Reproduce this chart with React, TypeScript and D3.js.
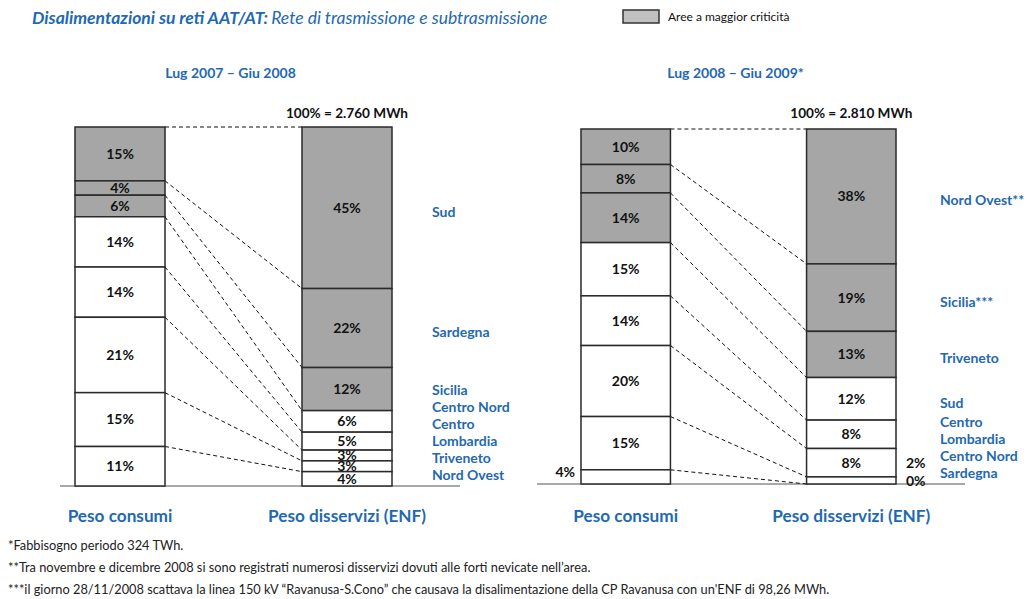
import * as d3 from 'd3';

// Lug 2007 - Giu 2008
const regions2008 = ['Sud', 'Sardegna', 'Sicilia', 'Centro Nord', 'Centro', 'Lombardia', 'Triveneto', 'Nord Ovest'];
const consumi2008 = [15, 4, 6, 14, 14, 21, 15, 11];
const enf2008 = [45, 22, 12, 6, 5, 3, 3, 4];

// Lug 2008 - Giu 2009
const regions2009 = ['Nord Ovest**', 'Sicilia***', 'Triveneto', 'Sud', 'Centro', 'Lombardia', 'Centro Nord', 'Sardegna'];
const consumi2009 = [10, 8, 14, 15, 14, 20, 15, 4];
const enf2009 = [38, 19, 13, 12, 8, 8, 2, 0];

const criticalCount = 3; // first three areas are "a maggior criticità"
const barKeys = ['consumi', 'enf'];
const barTitles = ['Peso consumi', 'Peso disservizi (ENF)'];

const footnotes = [
  '*Fabbisogno periodo 324 TWh.',
  '**Tra novembre e dicembre 2008 si sono registrati numerosi disservizi dovuti alle forti nevicate nell\u2019area.',
  '***il giorno 28/11/2008 scattava la linea 150 kV \u201cRavanusa-S.Cono\u201d che causava la disalimentazione della CP Ravanusa con un\'ENF di 98,26 MWh.',
];

const BLUE = '#1F69B1';
const GRAY = '#A6A6A6';
const FONT = 'Lato, "Open Sans", sans-serif';

// push labels apart from the bottom up
function spread(ys, gap, maxY) {
  const out = ys.slice();
  let limit = maxY;
  for (let i = out.length - 1; i >= 0; i--) {
    out[i] = Math.min(out[i], limit);
    limit = out[i] - gap;
  }
  return out;
}

function Panel({ x0, width, top, bottom, period, total, regions, consumi, enf, outsideSmall, labelGap, lineFrom, lineTo }) {
  const x = d3.scaleBand().domain(barKeys).range([x0, x0 + width]).paddingInner(0.6035);
  const y = d3.scaleLinear().domain([0, 100]).range([top, bottom]);
  const bw = x.bandwidth();

  const series = { consumi, enf };
  const stacks = barKeys.map(k => {
    const vals = series[k];
    const ends = d3.cumsum(vals);
    return vals.map((v, i) => ({ v, start: ends[i] - v, end: ends[i], i }));
  });

  const xc = x('consumi');
  const xe = x('enf');

  const enfMids = stacks[1].map(s => (y(s.start) + y(s.end)) / 2 + 4);
  const labelYs = spread(enfMids, 17, bottom - 11);

  // small values that get their label outside the bar
  const outC = stacks[0].filter(s => outsideSmall && s.v < 5);
  const outE = stacks[1].filter(s => outsideSmall && s.v < 5);
  const outEY = spread(outE.map(s => (y(s.start) + y(s.end)) / 2), 18, bottom - 3);
  const outCY = spread(outC.map(s => (y(s.start) + y(s.end)) / 2 - 5), 18, bottom - 3);

  return (
    <g>
      <text x={x0 + width / 2 - 3} y={73} textAnchor="middle" dy="0.35em" fill={BLUE}
        fontFamily={FONT} fontWeight="bold" fontSize={14}>{period}</text>
      <text x={xe + bw / 2} y={113} textAnchor="middle" dy="0.35em" fill="#111"
        fontFamily={FONT} fontWeight="bold" fontSize={13.6}>{total}</text>

      <line x1={lineFrom} x2={lineTo} y1={bottom} y2={bottom} stroke="#8c8c8c" strokeWidth={1.5} />

      {/* dashed connectors between matching boundaries */}
      {stacks[0].map((s, i) => (
        <line key={'c' + i} x1={xc + bw} y1={y(s.start)} x2={xe} y2={y(stacks[1][i].start)}
          stroke="#111" strokeWidth={1} strokeDasharray="4,3" />
      ))}

      {barKeys.map((k, bi) => (
        <g key={k}>
          {stacks[bi].map(s => (
            <rect key={s.i} x={x(k)} y={y(s.start)} width={bw} height={y(s.end) - y(s.start)}
              fill={s.i < criticalCount ? GRAY : '#fff'} stroke="#2a2a2a" strokeWidth={1.5} />
          ))}
          {stacks[bi].filter(s => !(outsideSmall && s.v < 5)).map(s => (
            <text key={'t' + s.i} x={x(k) + bw / 2} y={(y(s.start) + y(s.end)) / 2} dy="0.35em"
              textAnchor="middle" fill="#111" fontFamily={FONT} fontWeight="bold" fontSize={14}>
              {s.v + '%'}
            </text>
          ))}
          <text x={x(k) + bw / 2} y={516} dy="0.35em" textAnchor="middle" fill={BLUE}
            fontFamily={FONT} fontWeight="bold" fontSize={17.2}>{barTitles[bi]}</text>
        </g>
      ))}

      {outC.map((s, j) => (
        <text key={'oc' + j} x={xc - 6} y={outCY[j]} dy="0.35em" textAnchor="end" fill="#111"
          fontFamily={FONT} fontWeight="bold" fontSize={14}>{s.v + '%'}</text>
      ))}
      {outE.map((s, j) => (
        <text key={'oe' + j} x={xe + bw + 10} y={outEY[j]} dy="0.35em" textAnchor="start" fill="#111"
          fontFamily={FONT} fontWeight="bold" fontSize={14}>{s.v + '%'}</text>
      ))}

      {regions.map((r, i) => (
        <text key={r} x={xe + bw + labelGap} y={labelYs[i]} dy="0.35em" fill={BLUE}
          fontFamily={FONT} fontWeight="bold" fontSize={14}>{r}</text>
      ))}
    </g>
  );
}

export default function App() {
  return (
    <svg width={1031} height={599} style={{ position: 'absolute', left: 0, top: 0, background: '#fff' }}>
      <text x={32} y={18} dy="0.35em" fill={BLUE} fontFamily={FONT} fontStyle="italic" fontSize={17.5}>
        <tspan fontWeight="bold">Disalimentazioni su reti AAT/AT:</tspan>
        <tspan dx={3}>Rete di trasmissione e subtrasmissione</tspan>
      </text>

      <rect x={623} y={10} width={36} height={13} fill="#C0C0C0" stroke="#333" strokeWidth={1.5} />
      <text x={668} y={16.5} dy="0.35em" fill="#111" fontFamily={FONT} fontSize={12}>Aree a maggior criticità</text>

      <Panel x0={75} width={317} top={127} bottom={486} period={'Lug 2007 \u2013 Giu 2008'}
        total="100% = 2.760 MWh" regions={regions2008} consumi={consumi2008} enf={enf2008}
        outsideSmall={false} labelGap={40} lineFrom={60} lineTo={460} />
      <Panel x0={581} width={315} top={129} bottom={484} period={'Lug 2008 \u2013 Giu 2009*'}
        total="100% = 2.810 MWh" regions={regions2009} consumi={consumi2009} enf={enf2009}
        outsideSmall={true} labelGap={44} lineFrom={537} lineTo={965} />

      {footnotes.map((f, i) => (
        <text key={i} x={8} y={546 + i * 22} dy="0.35em" fill="#222" fontFamily={FONT} fontSize={12.8}>{f}</text>
      ))}
    </svg>
  );
}
